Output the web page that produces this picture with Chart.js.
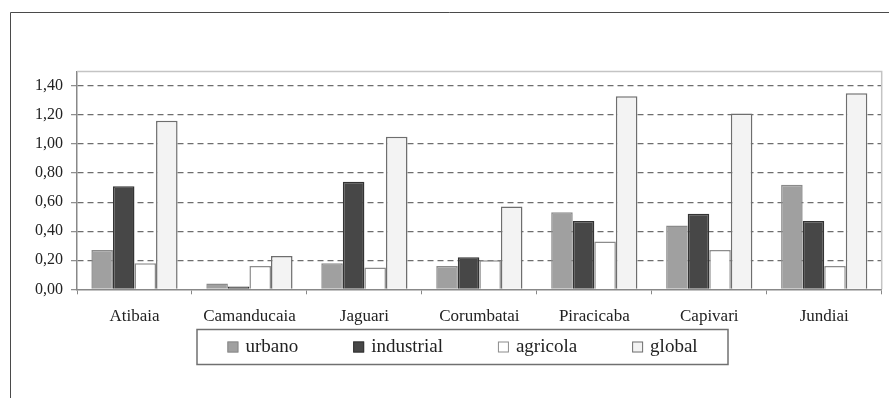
<!DOCTYPE html>
<html>
<head>
<meta charset="utf-8">
<script src="https://cdn.jsdelivr.net/npm/chart.js@4.4.1/dist/chart.umd.min.js"></script>
<style>
  html, body { margin: 0; padding: 0; background: #ffffff; }
  #wrap { width: 889px; height: 398px; }
</style>
</head>
<body>
<div id="wrap"><canvas id="chart" width="889" height="398"></canvas></div>
<script>
// River basins (x categories)
const basins = ['Atibaia', 'Camanducaia', 'Jaguari', 'Corumbatai', 'Piracicaba', 'Capivari', 'Jundiai'];

// Values per use type
const urbano     = [0.27, 0.04, 0.18, 0.16, 0.53, 0.44, 0.72];
const industrial = [0.71, 0.02, 0.74, 0.22, 0.47, 0.52, 0.47];
const agricola   = [0.18, 0.16, 0.15, 0.20, 0.33, 0.27, 0.16];
const global     = [1.16, 0.23, 1.05, 0.57, 1.33, 1.21, 1.35];

// Y axis tick values
const yTicks = [0, 0.2, 0.4, 0.6, 0.8, 1.0, 1.2, 1.4];

const SERIF = "'Liberation Serif', 'Times New Roman', serif";

// Outer frame, plot frame and boxed legend
const decorations = {
  id: 'decorations',
  beforeDraw(chart) {
    const ctx = chart.ctx;
    ctx.save();
    ctx.strokeStyle = '#4a4a4a';
    ctx.lineWidth = 1;
    ctx.beginPath();
    ctx.moveTo(10.5, chart.height);
    ctx.lineTo(10.5, 12.5);
    ctx.lineTo(chart.width, 12.5);
    ctx.stroke();
    ctx.restore();
  },
  beforeDatasetsDraw(chart) {
    const { ctx, chartArea: a } = chart;
    ctx.save();
    ctx.strokeStyle = '#c4c4c4';
    ctx.lineWidth = 1.5;
    ctx.setLineDash([]);
    ctx.beginPath();
    ctx.moveTo(a.left, a.top);
    ctx.lineTo(a.right, a.top);
    ctx.lineTo(a.right, a.bottom);
    ctx.stroke();
    ctx.restore();
  },
  afterDraw(chart) {
    const ctx = chart.ctx;
    const box = { left: 197, top: 329.5, right: 728, bottom: 364.5 };
    ctx.save();
    ctx.setLineDash([]);
    ctx.strokeStyle = '#707070';
    ctx.lineWidth = 1.5;
    ctx.strokeRect(box.left, box.top, box.right - box.left, box.bottom - box.top);

    ctx.font = '19px ' + SERIF;
    const sw = 11, swGap = 7, itemGap = 55;
    const items = chart.data.datasets.map(ds => ({
      label: ds.label, fill: ds.backgroundColor, stroke: ds.borderColor,
      w: sw + swGap + ctx.measureText(ds.label).width
    }));
    const total = items.reduce((s, it) => s + it.w, 0) + itemGap * (items.length - 1);
    let x = (box.left + box.right) / 2 - total / 2;
    const cy = (box.top + box.bottom) / 2;
    ctx.textBaseline = 'middle';
    ctx.textAlign = 'left';
    items.forEach(it => {
      ctx.fillStyle = it.fill;
      ctx.fillRect(x, cy - sw / 2, sw, sw);
      ctx.strokeStyle = it.stroke;
      ctx.lineWidth = 1;
      ctx.strokeRect(x + 0.5, cy - sw / 2 + 0.5, sw - 1, sw - 1);
      ctx.fillStyle = '#222222';
      ctx.fillText(it.label, x + sw + swGap, cy);
      x += it.w + itemGap;
    });
    ctx.restore();
  }
};

new Chart(document.getElementById('chart'), {
  type: 'bar',
  data: {
    labels: basins,
    datasets: [
      { label: 'urbano',     data: urbano,     backgroundColor: '#a0a0a0', borderColor: '#8a8a8a', borderWidth: 1.5 },
      { label: 'industrial', data: industrial, backgroundColor: '#474747', borderColor: '#333333', borderWidth: 1.5 },
      { label: 'agricola',   data: agricola,   backgroundColor: '#ffffff', borderColor: '#8c8c8c', borderWidth: 1.5 },
      { label: 'global',     data: global,     backgroundColor: '#f3f3f3', borderColor: '#6e6e6e', borderWidth: 1.5 }
    ]
  },
  options: {
    responsive: false,
    animation: false,
    devicePixelRatio: 1,
    layout: { padding: { top: 71.5, right: 7.3, left: 0, bottom: 68.7 } },
    datasets: { bar: { categoryPercentage: 0.75, barPercentage: 1.0, borderSkipped: 'start' } },
    plugins: { legend: { display: false }, tooltip: { enabled: false } },
    scales: {
      x: {
        afterFit(scale) { scale.height = 40; },
        grid: { display: true, drawOnChartArea: false, drawTicks: true, tickLength: 5, offset: true, color: '#888888' },
        border: { display: true, color: '#888888', width: 1.5 },
        ticks: { font: { family: SERIF, size: 17 }, color: '#222222', padding: 12, maxRotation: 0, autoSkip: false }
      },
      y: {
        min: 0,
        max: 1.5,
        afterFit(scale) { scale.width = 77; },
        afterBuildTicks(scale) { scale.ticks = yTicks.map(v => ({ value: v })); },
        grid: {
          color: ctx => (ctx.tick && ctx.tick.value === 0) ? 'rgba(0,0,0,0)' : '#6e6e6e',
          lineWidth: 1.3,
          tickColor: '#888888',
          tickLength: 6,
          tickBorderDash: [],
          tickWidth: 1.2
        },
        border: { display: true, color: '#888888', width: 1.5, dash: [6, 4] },
        ticks: {
          font: { family: SERIF, size: 16 },
          color: '#222222',
          padding: 8,
          callback: v => v.toFixed(2).replace('.', ',')
        }
      }
    }
  },
  plugins: [decorations]
});
</script>
</body>
</html>
